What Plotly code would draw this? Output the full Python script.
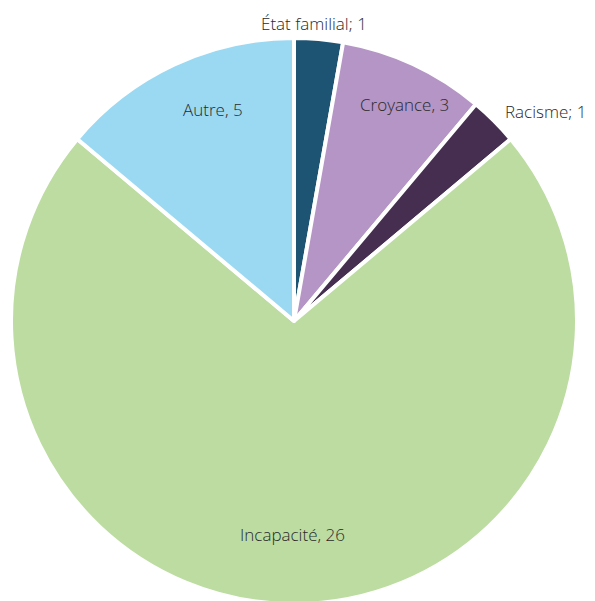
import math
import plotly.graph_objects as go

categories = ["État familial", "Croyance", "Racisme", "Incapacité", "Autre"]
values = [1, 3, 1, 26, 5]
separators = [";", ",", ";", ",", ","]
colors = ["#1d5373", "#b495c5", "#452e50", "#bcdca1", "#9bd9f3"]

# label placement styles (radius factor, angle offset in degrees, anchor)
label_r = [1.005, 0.86, 1.045, 0.755, 0.80]
label_da = [-0.9, 2.0, 0.0, 0.5, 4.0]
label_anchor = ["center", "center", "left", "center", "center"]
label_yanchor = ["bottom", "middle", "middle", "middle", "middle"]

W, H = 595, 601
# the page body adds an 8px offset; pie centre in figure pixels
cx, cy, R = 286, 313, 283

texts = [f"{c}{s} {v}" for c, s, v in zip(categories, separators, values)]

fig = go.Figure(go.Pie(
    labels=categories,
    values=values,
    textinfo="none",
    sort=False,
    direction="clockwise",
    rotation=0,
    marker=dict(colors=colors, line=dict(color="white", width=4)),
    domain=dict(x=[(cx - R) / W, (cx + R) / W], y=[(H - cy - R) / H, (H - cy + R) / H]),
    showlegend=False,
    hoverinfo="label+value",
))

total = sum(values)
cum = 0
annotations = []
for i, v in enumerate(values):
    mid = (cum + v / 2) / total * 360 + label_da[i]
    cum += v
    a = math.radians(mid)
    px = cx + label_r[i] * R * math.sin(a)
    py = cy - label_r[i] * R * math.cos(a)
    annotations.append(dict(
        x=px / W, y=1 - py / H, xref="paper", yref="paper",
        text=texts[i], showarrow=False,
        xanchor=label_anchor[i], yanchor=label_yanchor[i],
        font=dict(family="Open Sans", size=17, color="#2a2a2a", weight=300),
    ))

fig.update_layout(
    width=W, height=H,
    margin=dict(l=0, r=0, t=0, b=0),
    paper_bgcolor="white",
    plot_bgcolor="white",
    showlegend=False,
    annotations=annotations,
)

fig.write_html("out.html")
